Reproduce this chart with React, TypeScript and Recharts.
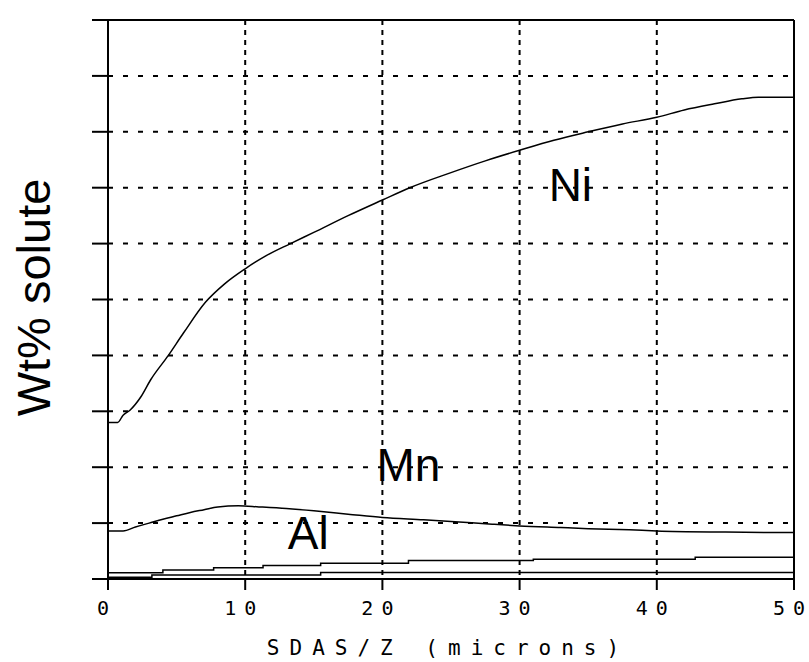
import React from 'react';
import { LineChart, Line, XAxis, YAxis, CartesianGrid, ReferenceDot } from 'recharts';

const xTicks = [0, 10, 20, 30, 40, 50];
const yTicks = [0, 1, 2, 3, 4, 5, 6, 7, 8, 9, 10];

const niX = [0, 0.7, 1.1, 1.6, 2.4, 3.1, 4.4, 5.5, 7.1, 8.5, 10, 11.5, 13.3, 15, 17.5, 20, 22, 25, 27.5, 30, 32.5, 35, 37.5, 40, 42, 44.2, 46.2, 47.4, 50];
const niV = [2.8, 2.8, 2.93, 3.02, 3.26, 3.56, 4.0, 4.4, 4.95, 5.28, 5.55, 5.78, 6.0, 6.2, 6.5, 6.78, 7.0, 7.27, 7.48, 7.67, 7.85, 8.0, 8.14, 8.26, 8.39, 8.5, 8.59, 8.62, 8.62];

const mnX = [0, 1.1, 2, 3, 4, 5, 6, 7, 8, 9.5, 11, 13, 15, 17.5, 20, 23, 25, 28, 30, 33, 35, 38, 40, 45, 50];
const mnV = [0.86, 0.86, 0.93, 1.0, 1.07, 1.13, 1.19, 1.24, 1.29, 1.31, 1.29, 1.26, 1.22, 1.16, 1.1, 1.06, 1.03, 0.98, 0.95, 0.92, 0.9, 0.88, 0.86, 0.84, 0.83];

const alX = [0, 4, 7.7, 11.3, 15.5, 21.9, 31, 42.8, 50];
const alV = [0.11, 0.16, 0.2, 0.24, 0.28, 0.33, 0.355, 0.39, 0.39];

const lowX = [0, 3.2, 15.5, 50];
const lowV = [0.03, 0.07, 0.115, 0.115];

const zip = (xs: number[], vs: number[]) => xs.map((x, i) => ({ x, v: vs[i] }));
const niData = zip(niX, niV);
const mnData = zip(mnX, mnV);
const alData = zip(alX, alV);
const lowData = zip(lowX, lowV);

const MONO = '"DejaVu Sans Mono", "Liberation Mono", monospace';
const SANS = '"Liberation Sans", Arial, sans-serif';

const BottomTick = (p: any) => {
  const chars = String(p.payload.value).split('');
  return (
    <text x={p.x - 5} y={615} textAnchor="middle" fontFamily={MONO} fontSize={20} fill="#000">
      {chars.map((c, i) => (
        <tspan key={i} dx={i === 0 ? 0 : 8}>{c}</tspan>
      ))}
    </text>
  );
};
const EmptyTick = () => <g />;

const tl = { stroke: '#000', strokeWidth: 2 };

export default function App() {
  return (
    <div style={{ position: 'absolute', left: 0, top: 0 }}>
      <LineChart width={809} height={662} margin={{ top: 8, right: 0, bottom: 23, left: 88 }}>
        <CartesianGrid xAxisId="b" yAxisId="l" vertical={false} stroke="#000" strokeWidth={2} strokeDasharray="5 10" />
        <CartesianGrid xAxisId="b" yAxisId="l" horizontal={false} stroke="#000" strokeWidth={2} strokeDasharray="5 5" />
        <XAxis
          xAxisId="b"
          dataKey="x"
          type="number"
          domain={[0, 50]}
          ticks={xTicks}
          height={60}
          tickSize={11}
          axisLine={tl}
          tickLine={tl}
          tick={<BottomTick />}
          label={{
            content: () => (
              <text x={448} y={655} textAnchor="middle" fontFamily={MONO} fontSize={21} letterSpacing={10} fill="#000">
                SDAS/Z (microns)
              </text>
            ),
          }}
        />
        <XAxis
          xAxisId="t"
          orientation="top"
          dataKey="x"
          type="number"
          domain={[0, 50]}
          ticks={xTicks}
          height={12}
          tickSize={12}
          axisLine={tl}
          tickLine={tl}
          tick={<EmptyTick />}
        />
        <YAxis
          yAxisId="l"
          type="number"
          domain={[0, 10]}
          ticks={yTicks}
          width={20}
          tickSize={16}
          axisLine={tl}
          tickLine={tl}
          tick={<EmptyTick />}
          label={{
            content: () => (
              <text x={50} y={297.5} transform="rotate(-90 50 297.5)" textAnchor="middle" fontFamily={SANS} fontSize={47} fill="#000">
                Wt% solute
              </text>
            ),
          }}
        />
        <YAxis
          yAxisId="r"
          orientation="right"
          type="number"
          domain={[0, 10]}
          ticks={yTicks}
          width={15}
          tickSize={14}
          axisLine={tl}
          tickLine={tl}
          tick={<EmptyTick />}
        />
        <Line xAxisId="b" yAxisId="l" data={niData} dataKey="v" type="monotone" stroke="#000" strokeWidth={1.5} dot={false} isAnimationActive={false} />
        <Line xAxisId="b" yAxisId="l" data={mnData} dataKey="v" type="monotone" stroke="#000" strokeWidth={1.5} dot={false} isAnimationActive={false} />
        <Line xAxisId="b" yAxisId="l" data={alData} dataKey="v" type="stepAfter" stroke="#000" strokeWidth={1.5} dot={false} isAnimationActive={false} />
        <Line xAxisId="b" yAxisId="l" data={lowData} dataKey="v" type="stepAfter" stroke="#000" strokeWidth={1.5} dot={false} isAnimationActive={false} />
        <ReferenceDot xAxisId="b" yAxisId="l" x={33.7} y={7.05} r={0} fill="none" stroke="none"
          label={{ value: 'Ni', position: 'center', fontFamily: SANS, fontSize: 46, fill: '#000' }} />
        <ReferenceDot xAxisId="b" yAxisId="l" x={21.9} y={2.05} r={0} fill="none" stroke="none"
          label={{ value: 'Mn', position: 'center', fontFamily: SANS, fontSize: 46, fill: '#000' }} />
        <ReferenceDot xAxisId="b" yAxisId="l" x={14.6} y={0.82} r={0} fill="none" stroke="none"
          label={{ value: 'Al', position: 'center', fontFamily: SANS, fontSize: 46, fill: '#000' }} />
      </LineChart>
    </div>
  );
}
